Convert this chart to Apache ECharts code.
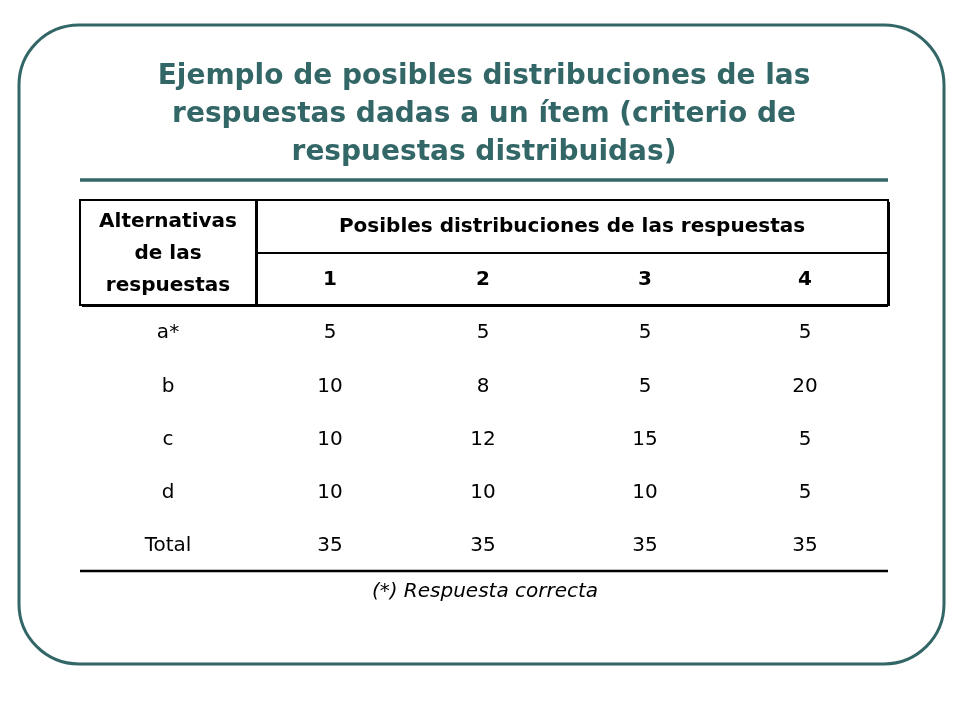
<!DOCTYPE html>
<html><head><meta charset="utf-8">
<script src="https://cdn.jsdelivr.net/npm/echarts@6/dist/echarts.min.js"></script>
<style>html,body{margin:0;background:#fff}#c{width:960px;height:720px}</style>
</head><body><div id="c"></div>
<script>
// datos de la tabla
var titleLines = ['Ejemplo de posibles distribuciones de las', 'respuestas dadas a un ítem (criterio de', 'respuestas distribuidas)'];
var alternativas = ['a*', 'b', 'c', 'd', 'Total'];
var distribuciones = ['1', '2', '3', '4'];
var dist1 = [5, 10, 10, 10, 35];
var dist2 = [5, 8, 12, 10, 35];
var dist3 = [5, 5, 15, 10, 35];
var dist4 = [5, 20, 5, 5, 35];
var nota = '(*) Respuesta correcta';

var chart = echarts.init(document.getElementById('c'));
var teal = '#336666';
var font = '"DejaVu Sans", sans-serif';
var colX = [330, 483, 645, 805];
var rowY = [333, 387, 440, 493, 546];
var els = [];

function txt(x, y, s, size, weight, color, style){
    els.push({type: 'text', x: x, y: y, style: {text: s, fill: color || '#000', font: (style || 'normal') + ' ' + (weight || 'normal') + ' ' + size + 'px ' + font, textAlign: 'center', textVerticalAlign: 'middle'}});
}
function line(x1, y1, x2, y2, w, c){
    els.push({type: 'line', shape: {x1: x1, y1: y1, x2: x2, y2: y2}, style: {stroke: c || '#000', lineWidth: w}});
}

// marco
els.push({type: 'rect', shape: {x: 19, y: 25, width: 925, height: 639, r: 60}, style: {fill: 'none', stroke: teal, lineWidth: 3}});
titleLines.forEach(function(s, i){ txt(484, 77 + i * 38, s, 28, 'bold', teal); });
line(80, 180, 888, 180, 3.5, teal);

// cabecera
els.push({type: 'rect', shape: {x: 80, y: 200, width: 808, height: 105}, style: {fill: 'none', stroke: '#000', lineWidth: 2}});
line(256, 200, 256, 305, 2);
line(256, 253, 888, 253, 2);
line(82, 306, 888, 306, 2);
line(889, 202, 889, 306, 2);
line(257, 200, 257, 305, 2);
txt(168, 222, 'Alternativas', 20, 'bold');
txt(168, 254, 'de las', 20, 'bold');
txt(168, 286, 'respuestas', 20, 'bold');
txt(572, 227, 'Posibles distribuciones de las respuestas', 20, 'bold');
distribuciones.forEach(function(s, i){ txt(colX[i], 280, s, 20, 'bold'); });

// cuerpo
var cols = [dist1, dist2, dist3, dist4];
alternativas.forEach(function(a, r){
    txt(168, rowY[r], a, 20);
    cols.forEach(function(col, c){ txt(colX[c], rowY[r], String(col[r]), 20); });
});
line(80, 571, 888, 571, 2.5);
txt(485, 592, nota, 20, 'normal', '#000', 'italic');

chart.setOption({graphic: {elements: els}});
</script></body></html>
